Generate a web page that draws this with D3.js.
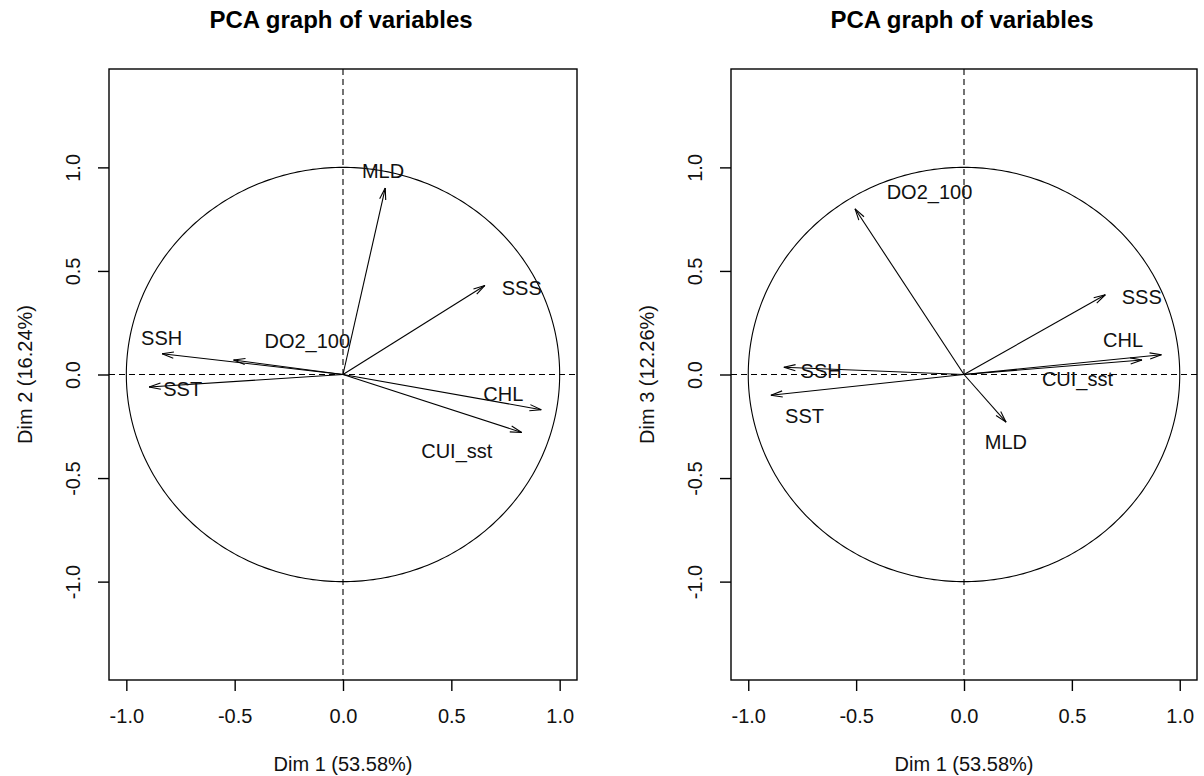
<!DOCTYPE html>
<html>
<head>
<meta charset="utf-8">
<script src="https://cdn.jsdelivr.net/npm/d3@7"></script>
<style>
  html, body { margin: 0; padding: 0; background: #fff; }
  svg { display: block; font-family: "Liberation Sans", Arial, Helvetica, sans-serif; }
</style>
</head>
<body>
<svg id="chart" width="1204" height="776"></svg>
<script>
// ---- data ----
const chartTitle = "PCA graph of variables";
const dimLabels = ["Dim 1 (53.58%)", "Dim 2 (16.24%)", "Dim 3 (12.26%)"];
const variables = ["SSH", "DO2_100", "SST", "MLD", "SSS", "CHL", "CUI_sst"];
const dim1 = [-0.835, -0.505, -0.895, 0.195, 0.655, 0.915, 0.825];
const dim2 = [0.10, 0.07, -0.06, 0.90, 0.43, -0.17, -0.28];
const dim3 = [0.035, 0.80, -0.10, -0.23, 0.385, 0.095, 0.07];
// label anchor positions (data units, as placed by autoLab)
const labX12 = [-0.837, -0.165, -0.74, 0.185, 0.825, 0.74, 0.525];
const labY12 = [0.177, 0.164, -0.071, 0.985, 0.42, -0.093, -0.37];
const labX13 = [-0.662, -0.16, -0.739, 0.194, 0.824, 0.7375, 0.526];
const labY13 = [0.019, 0.884, -0.198, -0.324, 0.373, 0.169, -0.021];
const tickValues = [-1, -0.5, 0, 0.5, 1];
const tickLabels = ["-1.0", "-0.5", "0.0", "0.5", "1.0"];

// ---- layout ----
const svg = d3.select("#chart");
const panels = [
  { left: 109, right: 577, top: 69, bottom: 680, xs: dim1, ys: dim2, lx: labX12, ly: labY12, ylab: dimLabels[1] },
  { left: 731, right: 1197, top: 69, bottom: 680, xs: dim1, ys: dim3, lx: labX13, ly: labY13, ylab: dimLabels[2] }
];
const ink = "#000";

panels.forEach(p => {
  const x = d3.scaleLinear().domain([-1.08, 1.08]).range([p.left, p.right]);
  const y = d3.scaleLinear().domain([-1.475, 1.475]).range([p.bottom, p.top]);
  const g = svg.append("g");

  // dashed zero lines
  g.append("line").attr("x1", p.left).attr("x2", p.right)
    .attr("y1", y(0)).attr("y2", y(0))
    .attr("stroke", ink).attr("stroke-width", 1.1).attr("stroke-dasharray", "6,4");
  g.append("line").attr("y1", p.top).attr("y2", p.bottom)
    .attr("x1", x(0)).attr("x2", x(0))
    .attr("stroke", ink).attr("stroke-width", 1.1).attr("stroke-dasharray", "6,4");

  // unit circle
  const ang = d3.range(0, 361, 1).map(a => a * Math.PI / 180);
  g.append("path")
    .attr("d", d3.line().x(a => x(Math.cos(a))).y(a => y(Math.sin(a)))(ang))
    .attr("fill", "none").attr("stroke", ink).attr("stroke-width", 1.1);

  // arrows
  const headLen = 12, headAng = 15 * Math.PI / 180;
  variables.forEach((v, i) => {
    const x0 = x(0), y0 = y(0), x1 = x(p.xs[i]), y1 = y(p.ys[i]);
    g.append("line").attr("x1", x0).attr("y1", y0).attr("x2", x1).attr("y2", y1)
      .attr("stroke", ink).attr("stroke-width", 1.1);
    const th = Math.atan2(y1 - y0, x1 - x0);
    [headAng, -headAng].forEach(h => {
      g.append("line").attr("x1", x1).attr("y1", y1)
        .attr("x2", x1 - headLen * Math.cos(th + h))
        .attr("y2", y1 - headLen * Math.sin(th + h))
        .attr("stroke", ink).attr("stroke-width", 1.1);
    });
  });

  // variable labels
  g.selectAll("text.var").data(variables).join("text")
    .attr("class", "var")
    .attr("x", (d, i) => x(p.lx[i]))
    .attr("y", (d, i) => y(p.ly[i]))
    .attr("dy", "0.36em")
    .attr("text-anchor", "middle")
    .attr("font-size", 20).attr("fill", "#111")
    .text(d => d);

  // box
  g.append("rect").attr("x", p.left).attr("y", p.top)
    .attr("width", p.right - p.left).attr("height", p.bottom - p.top)
    .attr("fill", "none").attr("stroke", ink).attr("stroke-width", 1.4);

  // bottom axis
  const xa = g.append("g").attr("transform", `translate(0,${p.bottom})`)
    .call(d3.axisBottom(x).tickValues(tickValues)
      .tickFormat((d, i) => tickLabels[i]).tickSize(11).tickPadding(18).tickSizeOuter(0));
  xa.select(".domain").remove();
  xa.selectAll("line").attr("stroke", ink).attr("stroke-width", 1.4);
  xa.selectAll("text").attr("font-size", 20).attr("fill", "#111")
    .attr("font-family", "Liberation Sans, Arial, sans-serif");

  // left axis
  const ya = g.append("g").attr("transform", `translate(${p.left},0)`)
    .call(d3.axisLeft(y).tickValues(tickValues)
      .tickFormat((d, i) => tickLabels[i]).tickSize(11).tickSizeOuter(0));
  ya.select(".domain").remove();
  ya.selectAll("line").attr("stroke", ink).attr("stroke-width", 1.4);
  ya.selectAll("text")
    .attr("x", null).attr("dy", null)
    .attr("text-anchor", "middle")
    .attr("transform", "translate(-29,0) rotate(-90)")
    .attr("font-size", 20).attr("fill", "#111")
    .attr("font-family", "Liberation Sans, Arial, sans-serif");

  // axis titles
  const cx = (p.left + p.right) / 2;
  g.append("text").attr("x", x(0)).attr("y", 771)
    .attr("text-anchor", "middle").attr("font-size", 20).attr("fill", "#111")
    .text(dimLabels[0]);
  g.append("text")
    .attr("transform", `translate(${p.left - 77},${y(0)}) rotate(-90)`)
    .attr("text-anchor", "middle").attr("font-size", 20).attr("fill", "#111")
    .text(p.ylab);

  // title
  g.append("text").attr("x", cx - 2).attr("y", 28)
    .attr("text-anchor", "middle").attr("font-size", 24).attr("font-weight", "bold")
    .attr("fill", "#000")
    .text(chartTitle);
});
</script>
</body>
</html>
